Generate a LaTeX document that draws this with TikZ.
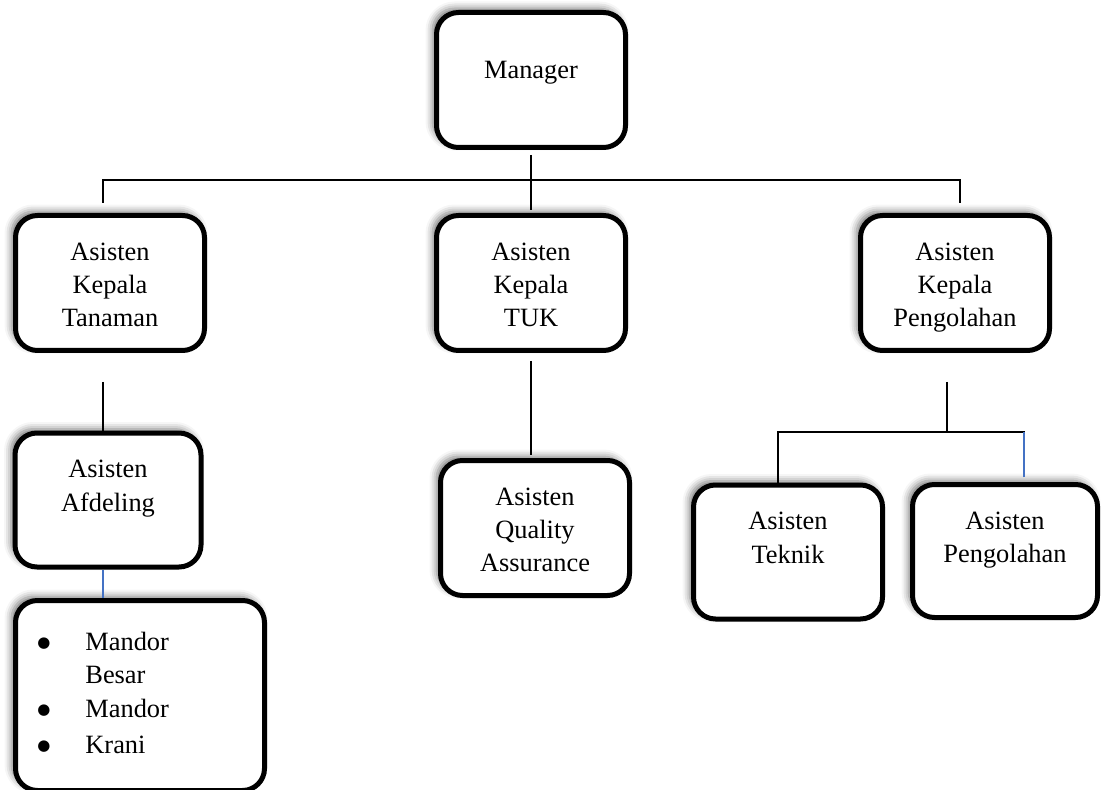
\documentclass[tikz,border=0pt]{standalone}
\usepackage{fontspec}
\setmainfont{Liberation Serif}
\newfontfamily\dotfont{DejaVu Sans}
\usetikzlibrary{shadows.blur}
\definecolor{linkblue}{RGB}{68,114,196}
\newcommand{\listdot}{\makebox[24pt][l]{\raisebox{1.5pt}{\dotfont\fontsize{7.5}{7.5}\selectfont ●}}}

\begin{document}
\begin{tikzpicture}[x=0.5pt, y=-0.5pt,
    orgbox/.style={draw, line width=2.5pt, rounded corners=11pt, fill=white,
        blur shadow={shadow xshift=-2pt, shadow yshift=2pt,
            shadow blur radius=3.5pt, shadow opacity=55},
        minimum width=94.5pt, minimum height=67.5pt, inner sep=0pt},
    boxtext/.style={anchor=north, align=center, inner sep=0pt,
        font=\fontsize{13.2}{16.6}\selectfont},
    link/.style={draw, line width=0.75pt},
    bluelink/.style={link, draw=linkblue}]

    \useasboundingbox (0,0) rectangle (1101,790);

    % boxes
    \node[orgbox] (manager) at (531,80) {};
    \node[orgbox] (tanaman) at (110,283) {};
    \node[orgbox] (tuk) at (531,283) {};
    \node[orgbox] (kpengolahan) at (955,283) {};
    \node[orgbox, minimum width=93pt, minimum height=67pt] (afdeling) at (108,500) {};
    \node[orgbox] (qa) at (535,528) {};
    \node[orgbox, minimum height=67pt] (teknik) at (788,552) {};
    \node[orgbox, minimum width=92.5pt, minimum height=66.5pt] (pengolahan) at (1005,551) {};
    \node[orgbox, minimum width=124.5pt, minimum height=95pt] (mandor) at (140,695.5) {};

    % texts
    \node[boxtext] (manager-txt) at ([yshift=-25.5pt]manager.north) {Manager};
    \node[boxtext] (tanaman-txt) at ([yshift=-14.75pt]tanaman.north) {Asisten\\Kepala\\Tanaman};
    \node[boxtext] (tuk-txt) at ([yshift=-14.75pt]tuk.north) {Asisten\\Kepala\\TUK};
    \node[boxtext] (kpengolahan-txt) at ([yshift=-14.75pt]kpengolahan.north) {Asisten\\Kepala\\Pengolahan};
    \node[boxtext] (afdeling-txt) at ([yshift=-14.75pt]afdeling.north) {Asisten\\Afdeling};
    \node[boxtext] (qa-txt) at ([yshift=-14.75pt]qa.north) {Asisten\\Quality\\Assurance};
    \node[boxtext] (teknik-txt) at ([yshift=-14.75pt]teknik.north) {Asisten\\Teknik};
    \node[boxtext] (pengolahan-txt) at ([yshift=-14.75pt]pengolahan.north) {Asisten\\Pengolahan};
    \node[boxtext, anchor=north west, align=left] (mandor-txt) at ([shift={(12pt,-17pt)}]mandor.north west)
        {\listdot Mandor\\\hspace*{24pt}Besar\\\listdot Mandor\\[1.5pt]\listdot Krani};

    % connectors
    \coordinate (bus) at (531,180);
    \coordinate (branch) at (947,432);
    \draw[link] ([yshift=-2.5pt]manager.south) -- ([yshift=1.5pt]tuk.north);
    \draw[link] ([shift={(-3.5pt,5pt)}]tanaman.north) |- (bus) -| ([shift={(2.5pt,5pt)}]kpengolahan.north);
    \draw[link] ([shift={(-3.5pt,-14.5pt)}]tanaman.south) -- ([xshift=-2.5pt]afdeling.north);
    \draw[link] ([yshift=-4pt]tuk.south) -- ([shift={(-2pt,1.5pt)}]qa.north);
    \draw[link] ([shift={(-4pt,-14.5pt)}]kpengolahan.south) -- (branch);
    \draw[link] ([shift={(9.5pt,2.5pt)}]pengolahan.north) |- (branch) -| ([xshift=-5pt]teknik.north);
    \draw[bluelink] ([shift={(9.5pt,2.5pt)}]pengolahan.north) -- ++(0,-45);
    \draw[bluelink] ([xshift=-2.5pt]afdeling.south) -- ([xshift=-18.5pt]mandor.north);

\end{tikzpicture}
\end{document}
